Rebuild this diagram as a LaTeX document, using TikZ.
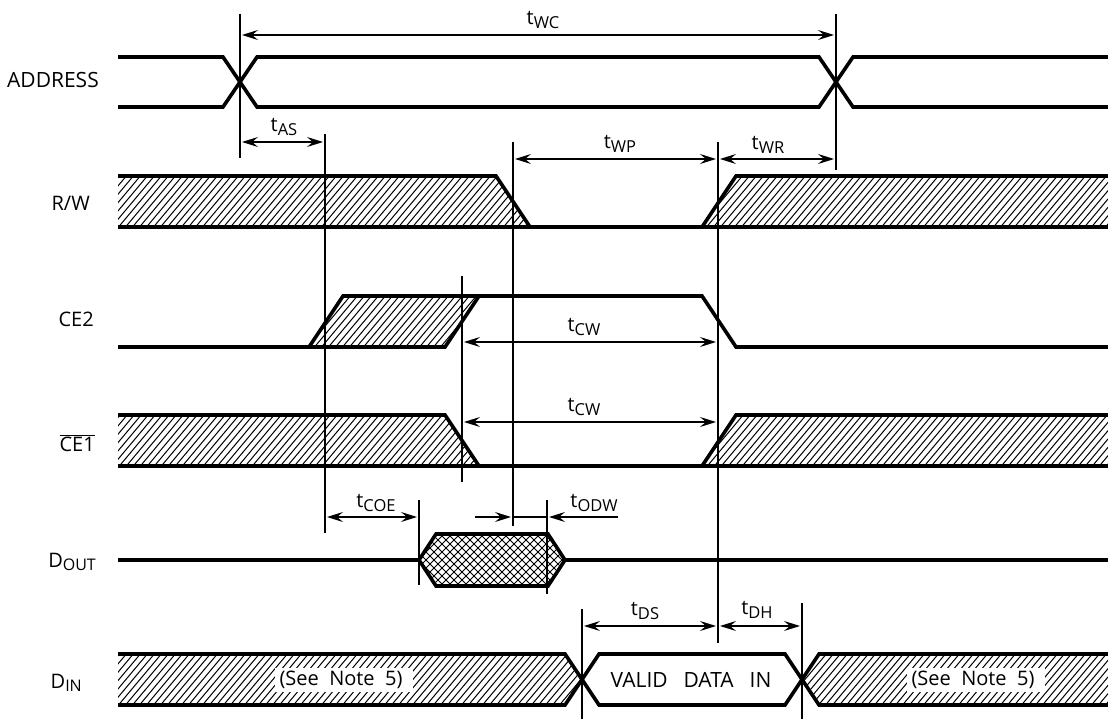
\documentclass[tikz,border=0pt]{standalone}
\usepackage{fontspec}
\setmainfont{Open Sans}
\usetikzlibrary{arrows.meta}
\newcommand\tlab[1]{t\raisebox{-3.5pt}{\fontsize{16.5}{16.5}\selectfont #1}}
\newcommand\siglab[2]{#1\raisebox{-3.5pt}{\fontsize{16}{16}\selectfont #2}}
\newcommand\hatcharea[2]{
  \begin{scope}
    \clip #2;
    \foreach \x in {60,67,...,1150} \draw [hatch line] (\x,#1) -- ++(50:80);
  \end{scope}
}
\newcommand\crossarea[1]{
  \begin{scope}
    \clip #1;
    \foreach \x in {340,348,...,620} {
      \draw [hatch line] (\x,-590) -- ++(45:80);
      \draw [hatch line] (\x,-530) -- ++(-45:80);
    }
  \end{scope}
}

\begin{document}
\begin{tikzpicture}[x=1pt,y=1pt,every node/.style={inner sep=1pt},
    wave/.style={line width=3.6pt,line join=miter,line cap=butt},
    mark line/.style={line width=1.6pt},
    dim/.style={line width=1.2pt,{Stealth[length=16pt,width=10pt,inset=6pt]}-{Stealth[length=16pt,width=10pt,inset=6pt]}},
    dimright/.style={line width=1.2pt,-{Stealth[length=16pt,width=10pt,inset=6pt]}},
    hatch line/.style={line width=1pt},
    sig/.style={font=\fontsize{20}{20}\selectfont},
    time/.style={font=\fontsize{20}{20}\selectfont}]
  \useasboundingbox (0,0) rectangle (1108,-719);
  \fill [white] (0,0) rectangle (1108,-719);

  % hatched areas
  \hatcharea{-230}{(118,-176) -- (496,-176) -- (530,-227) -- (118,-227) -- cycle}
  \hatcharea{-230}{(1108,-176) -- (736,-176) -- (702,-227) -- (1108,-227) -- cycle}
  \hatcharea{-350}{(309,-347) -- (343,-296) -- (479,-296) -- (445,-347) -- cycle}
  \hatcharea{-470}{(118,-415) -- (445,-415) -- (479,-466) -- (118,-466) -- cycle}
  \hatcharea{-470}{(1108,-415) -- (736,-415) -- (702,-466) -- (1108,-466) -- cycle}
  \hatcharea{-708}{(118,-654) -- (565,-654) -- (582,-680) -- (565,-705) -- (118,-705) -- cycle}
  \hatcharea{-708}{(1108,-654) -- (819,-654) -- (802,-680) -- (819,-705) -- (1108,-705) -- cycle}
  \crossarea{(419,-560) -- (436,-534) -- (548,-534) -- (565,-560) -- (548,-586) -- (436,-586) -- cycle}
  \fill [white] (275,-668) rectangle (413,-692);
  \fill [white] (907,-668) rectangle (1045,-692);

  % ADDRESS
  \draw [wave] (118,-57) -- (223,-57) -- (257,-107) -- (819,-107) -- (853,-57) -- (1108,-57);
  \draw [wave] (118,-107) -- (223,-107) -- (257,-57) -- (819,-57) -- (853,-107) -- (1108,-107);

  % R/W
  \draw [wave] (118,-176) -- (496,-176) -- (530,-227) -- (702,-227) -- (736,-176) -- (1108,-176);
  \draw [wave] (118,-227) -- (1108,-227);

  % CE2
  \draw [wave] (118,-347) -- (309,-347) -- (343,-296) -- (702,-296) -- (736,-347) -- (1108,-347);
  \draw [wave] (309,-347) -- (445,-347) -- (479,-296);

  % CE1
  \draw [wave] (118,-415) -- (445,-415) -- (479,-466) -- (702,-466) -- (736,-415) -- (1108,-415);
  \draw [wave] (118,-466) -- (1108,-466);

  % DOUT
  \draw [wave] (118,-560) -- (419,-560) -- (436,-534) -- (548,-534) -- (565,-560) -- (1108,-560);
  \draw [wave] (419,-560) -- (436,-586) -- (548,-586) -- (565,-560);

  % DIN
  \draw [wave] (118,-654) -- (565,-654) -- (599,-705) -- (785,-705) -- (819,-654) -- (1108,-654);
  \draw [wave] (118,-705) -- (565,-705) -- (599,-654) -- (785,-654) -- (819,-705) -- (1108,-705);

  % vertical marks
  \draw [mark line] (240,-14) -- (240,-158);
  \draw [mark line] (836,-14) -- (836,-170);
  \draw [mark line] (325,-134) -- (325,-533);
  \draw [mark line] (513,-142) -- (513,-526);
  \draw [mark line] (718,-142) -- (718,-643);
  \draw [mark line] (462,-276) -- (462,-482);
  \draw [mark line] (419,-500) -- (419,-585);
  \draw [mark line] (547,-500) -- (547,-594);
  \draw [mark line] (582,-609) -- (582,-719);
  \draw [mark line] (802,-603) -- (802,-719);

  % timing arrows
  \draw [dim] (242,-35) -- (834,-35);
  \draw [dim] (242,-142) -- (323,-142);
  \draw [dim] (515,-159) -- (716,-159);
  \draw [dim] (720,-159) -- (834,-159);
  \draw [dim] (464,-342) -- (716,-342);
  \draw [dim] (464,-422) -- (716,-422);
  \draw [dim] (327,-517) -- (417,-517);
  \draw [dimright] (475,-517) -- (511,-517);
  \draw [line width=1.2pt] (513,-517) -- (547,-517);
  \draw [dimright] (618,-517) -- (549,-517);
  \draw [dim] (584,-626) -- (716,-626);
  \draw [dim] (720,-626) -- (800,-626);

  \node [time] (twc) at (543,-20) {\tlab{WC}};
  \node [time] (tas) at (284,-127) {\tlab{AS}};
  \node [time] (twp) at (620,-144) {\tlab{WP}};
  \node [time] (twr) at (768,-145) {\tlab{WR}};
  \node [time] (tcwa) at (584,-327) {\tlab{CW}};
  \node [time] (tcwb) at (584,-407) {\tlab{CW}};
  \node [time] (tcoe) at (376,-503) {\tlab{COE}};
  \node [time] (todw) at (594,-503) {\tlab{ODW}};
  \node [time] (tds) at (645,-611) {\tlab{DS}};
  \node [time] (tdh) at (757,-610) {\tlab{DH}};

  % signal names
  \node [sig,anchor=east,font=\fontsize{21}{21}\selectfont] (address) at (100,-80) {ADDRESS};
  \node [sig,anchor=east] (rw) at (91,-203) {R/W};
  \node [sig,anchor=east] (ce2) at (95,-319) {CE2};
  \node [sig,anchor=east] (ce1) at (96,-443) {$\overline{\mbox{CE1}}$};
  \node [sig,anchor=east] (dout) at (97,-562) {\siglab{D}{OUT}};
  \node [sig,anchor=east] (din) at (83,-683) {\siglab{D}{IN}};

  \node [sig,font=\fontsize{21}{21}\selectfont] (valid) at (691,-680) {VALID\ \ \hspace{5pt}DATA\ \ \hspace{5pt}IN};
  \node [sig] (notea) at (341,-680) {(See\ \ Note\ \ 5)};
  \node [sig] (noteb) at (973,-680) {(See\ \ Note\ \ 5)};
\end{tikzpicture}
\end{document}
